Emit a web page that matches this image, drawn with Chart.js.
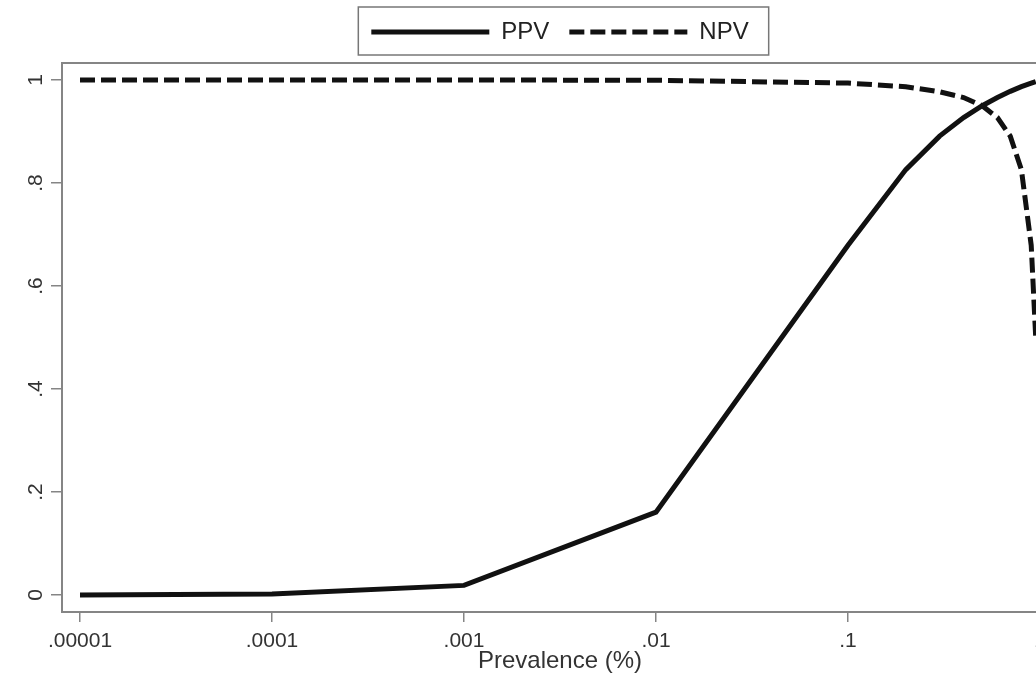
<!DOCTYPE html>
<html>
<head>
<meta charset="utf-8">
<script src="https://cdn.jsdelivr.net/npm/chart.js@4"></script>
<style>
    html, body { margin: 0; padding: 0; background: #fff; overflow: hidden; }
    #wrap { width: 1120px; height: 676px; }
</style>
</head>
<body>
<div id="wrap"><canvas id="chart" width="1120" height="676"></canvas></div>
<script>
// Data
const prevalence = [0.00001, 0.0001, 0.001, 0.01, 0.1, 0.2, 0.3, 0.4, 0.5, 0.6, 0.7, 0.8, 0.9, 0.95];
const ppv = [0.0002, 0.0019, 0.0187, 0.161, 0.679, 0.826, 0.891, 0.927, 0.95, 0.966, 0.978, 0.987, 0.994, 0.997];
const npv = [1.0, 1.0, 1.0, 0.9995, 0.994, 0.987, 0.977, 0.966, 0.95, 0.927, 0.891, 0.826, 0.679, 0.5];

const xTickValues = [0.00001, 0.0001, 0.001, 0.01, 0.1, 1];
const xTickLabels = ['.00001', '.0001', '.001', '.01', '.1', '1'];
const yTickValues = [0, 0.2, 0.4, 0.6, 0.8, 1];
const yTickLabels = ['0', '.2', '.4', '.6', '.8', '1'];

const FONT = "'Liberation Sans', Arial, sans-serif";
const INK = '#111';
const FRAME = '#858585';

const toPoints = (ys) => prevalence.map((x, i) => ({ x: x, y: ys[i] }));

// rotated y tick labels + box round the legend
const extras = {
    id: 'extras',
    afterDraw(chart) {
        const ctx = chart.ctx;
        const y = chart.scales.y;
        ctx.save();
        ctx.fillStyle = '#333';
        ctx.font = '21px ' + FONT;
        ctx.textAlign = 'center';
        ctx.textBaseline = 'middle';
        y.ticks.forEach((t, i) => {
            const py = y.getPixelForValue(t.value);
            ctx.save();
            ctx.translate(36, py);
            ctx.rotate(-Math.PI / 2);
            ctx.fillText(yTickLabels[i], 0, 0);
            ctx.restore();
        });

        const boxes = chart.legend.legendHitBoxes;
        if (boxes && boxes.length) {
            const first = boxes[0];
            const last = boxes[boxes.length - 1];
            const mid = first.top + first.height / 2;
            const left = first.left - 13;
            const right = last.left + last.width + 20;
            ctx.strokeStyle = '#777';
            ctx.lineWidth = 1.5;
            ctx.strokeRect(left, mid - 25, right - left, 48);
        }
        ctx.restore();
    }
};

const ctx = document.getElementById('chart').getContext('2d');
new Chart(ctx, {
    type: 'line',
    data: {
        datasets: [{
            label: 'PPV',
            data: toPoints(ppv),
            borderColor: INK,
            borderWidth: 5,
            pointRadius: 0,
            tension: 0,
            fill: false
        }, {
            label: 'NPV',
            data: toPoints(npv),
            borderColor: INK,
            borderWidth: 5,
            borderDash: [15, 6],
            pointRadius: 0,
            tension: 0,
            fill: false
        }]
    },
    options: {
        responsive: false,
        animation: false,
        layout: { padding: 0 },
        plugins: {
            tooltip: { enabled: false },
            legend: {
                position: 'top',
                labels: {
                    usePointStyle: true,
                    pointStyle: 'line',
                    pointStyleWidth: 118,
                    padding: 20,
                    color: '#222',
                    font: { family: FONT, size: 24 },
                    generateLabels: (chart) => chart.data.datasets.map((ds, i) => ({
                        text: ds.label,
                        datasetIndex: i,
                        pointStyle: 'line',
                        strokeStyle: ds.borderColor,
                        fillStyle: ds.borderColor,
                        lineWidth: ds.borderWidth,
                        lineDash: ds.borderDash || [],
                        fontColor: '#222',
                        hidden: false
                    }))
                }
            }
        },
        scales: {
            x: {
                type: 'logarithmic',
                position: 'bottom',
                min: Math.pow(10, -5.09375),
                max: Math.pow(10, 0.09375),
                afterBuildTicks: (scale) => {
                    scale.ticks = xTickValues.map(v => ({ value: v }));
                },
                afterFit: (scale) => { scale.height = 64; },
                grid: { display: true, drawOnChartArea: false, drawTicks: true, tickLength: 10, color: FRAME, lineWidth: 1.5 },
                border: { display: true, color: FRAME, width: 2 },
                ticks: {
                    autoSkip: false,
                    maxRotation: 0,
                    padding: 7,
                    color: '#333',
                    font: { family: FONT, size: 21 },
                    callback: (value, index) => xTickLabels[index]
                },
                title: {
                    display: true,
                    text: 'Prevalence (%)',
                    color: '#333',
                    font: { family: FONT, size: 24 },
                    padding: { top: 0, bottom: 0 }
                }
            },
            x2: {
                type: 'linear',
                position: 'top',
                min: 0,
                max: 1,
                afterFit: (scale) => { scale.height = 9; },
                grid: { display: false },
                border: { display: true, color: FRAME, width: 2 },
                ticks: { display: false }
            },
            y: {
                type: 'linear',
                position: 'left',
                min: -0.033,
                max: 1.033,
                afterBuildTicks: (scale) => {
                    scale.ticks = yTickValues.map(v => ({ value: v }));
                },
                afterFit: (scale) => { scale.width = 62; },
                grid: { display: true, drawOnChartArea: false, drawTicks: true, tickLength: 11, color: FRAME, lineWidth: 1.5 },
                border: { display: true, color: FRAME, width: 2 },
                ticks: { display: false }
            },
            y2: {
                type: 'linear',
                position: 'right',
                min: 0,
                max: 1,
                afterFit: (scale) => { scale.width = 62; },
                grid: { display: false },
                border: { display: true, color: FRAME, width: 2 },
                ticks: { display: false }
            }
        }
    },
    plugins: [extras]
});
</script>
</body>
</html>
